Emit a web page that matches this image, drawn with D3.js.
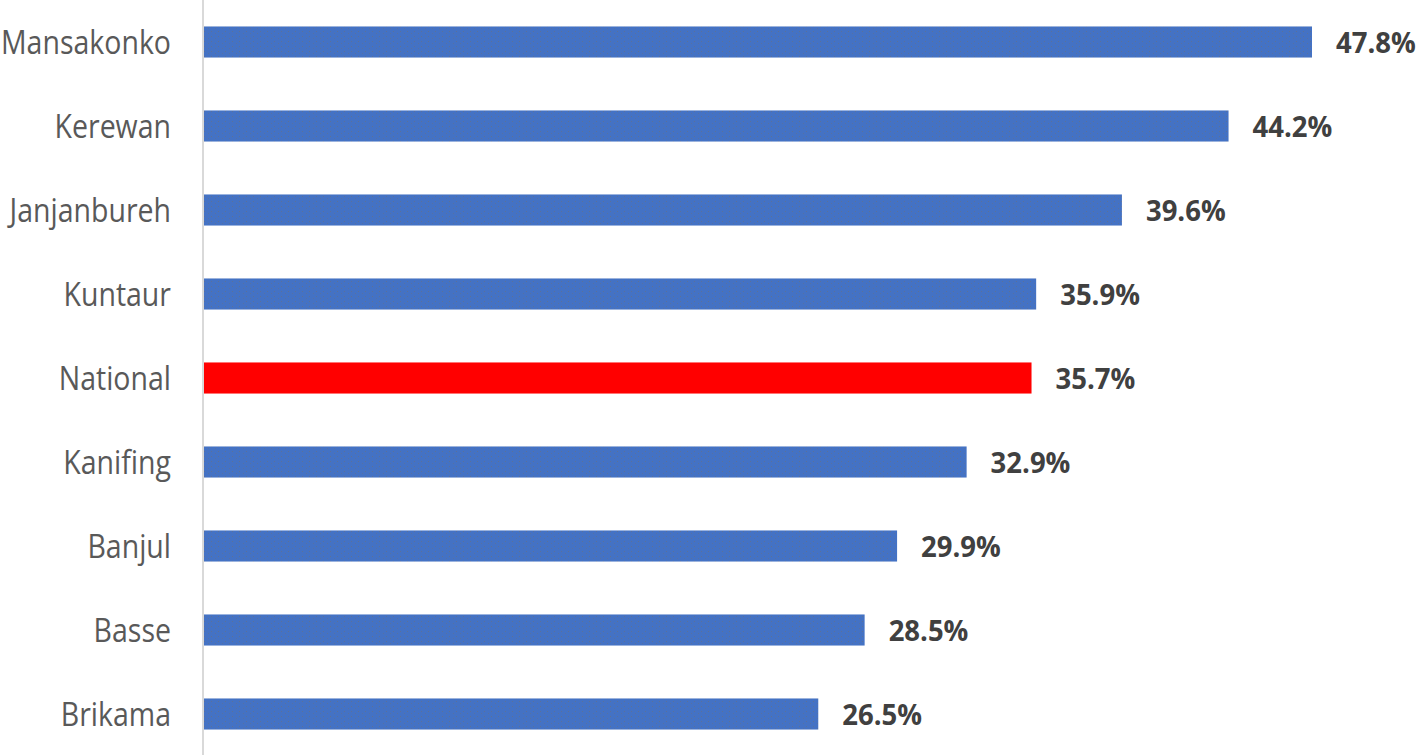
<!DOCTYPE html>
<html><head><meta charset="utf-8">
<script src="https://cdn.jsdelivr.net/npm/d3@7"></script>
<style>body{margin:0;background:#fff;}svg{display:block;}</style>
</head><body>
<svg id="chart" width="1418" height="755"></svg>
<script>
const categories = ["Mansakonko","Kerewan","Janjanbureh","Kuntaur","National","Kanifing","Banjul","Basse","Brikama"];
const values = [47.8,44.2,39.6,35.9,35.7,32.9,29.9,28.5,26.5];
const highlight = "National";

const svg = d3.select("#chart");
const x0 = 204;
const x = d3.scaleLinear().domain([0, 47.8]).range([x0, 1312]);
const y = d3.scaleBand().domain(categories).range([0, 756]).paddingInner(0.63).paddingOuter(0.315);

const defs = svg.append("defs");
const pat = defs.append("pattern").attr("id","tex").attr("patternUnits","userSpaceOnUse").attr("width",7).attr("height",5);
pat.append("rect").attr("width",7).attr("height",5).attr("fill","#4472C4");
pat.append("rect").attr("x",1).attr("y",1).attr("width",1).attr("height",1).attr("fill","#7a7060").attr("opacity",0.45);
pat.append("rect").attr("x",5).attr("y",3).attr("width",1).attr("height",1).attr("fill","#7a7060").attr("opacity",0.35);

svg.append("line").attr("x1",x0-1).attr("x2",x0-1).attr("y1",0).attr("y2",755)
  .attr("stroke","#d9d9d9").attr("stroke-width",2);

const data = categories.map((c,i)=>({c, v: values[i]}));

svg.selectAll("rect.bar").data(data).join("rect").attr("class","bar")
  .attr("x", x(0)).attr("y", d=>y(d.c)).attr("width", d=>x(d.v)-x(0)).attr("height", y.bandwidth())
  .attr("fill", d=> d.c===highlight ? "#FF0000" : "url(#tex)");

svg.selectAll("text.cat").data(data).join("text").attr("class","cat")
  .attr("transform", d=>`translate(171,${y(d.c)+y.bandwidth()/2}) scale(1,1.14)`)
  .attr("dy","0.36em")
  .attr("text-anchor","end").attr("font-family","'Open Sans', sans-serif").attr("font-size",28.5)
  .attr("fill","#595959").text(d=>d.c);

svg.selectAll("text.val").data(data).join("text").attr("class","val")
  .attr("transform", d=>`translate(${x(d.v)+24},${y(d.c)+y.bandwidth()/2+1}) scale(1,1.06)`)
  .attr("dy","0.36em")
  .attr("font-family","'Open Sans', sans-serif").attr("font-weight","bold").attr("font-size",27.5)
  .attr("fill","#404040").text(d=>d.v.toFixed(1)+"%");
</script>
</body></html>
